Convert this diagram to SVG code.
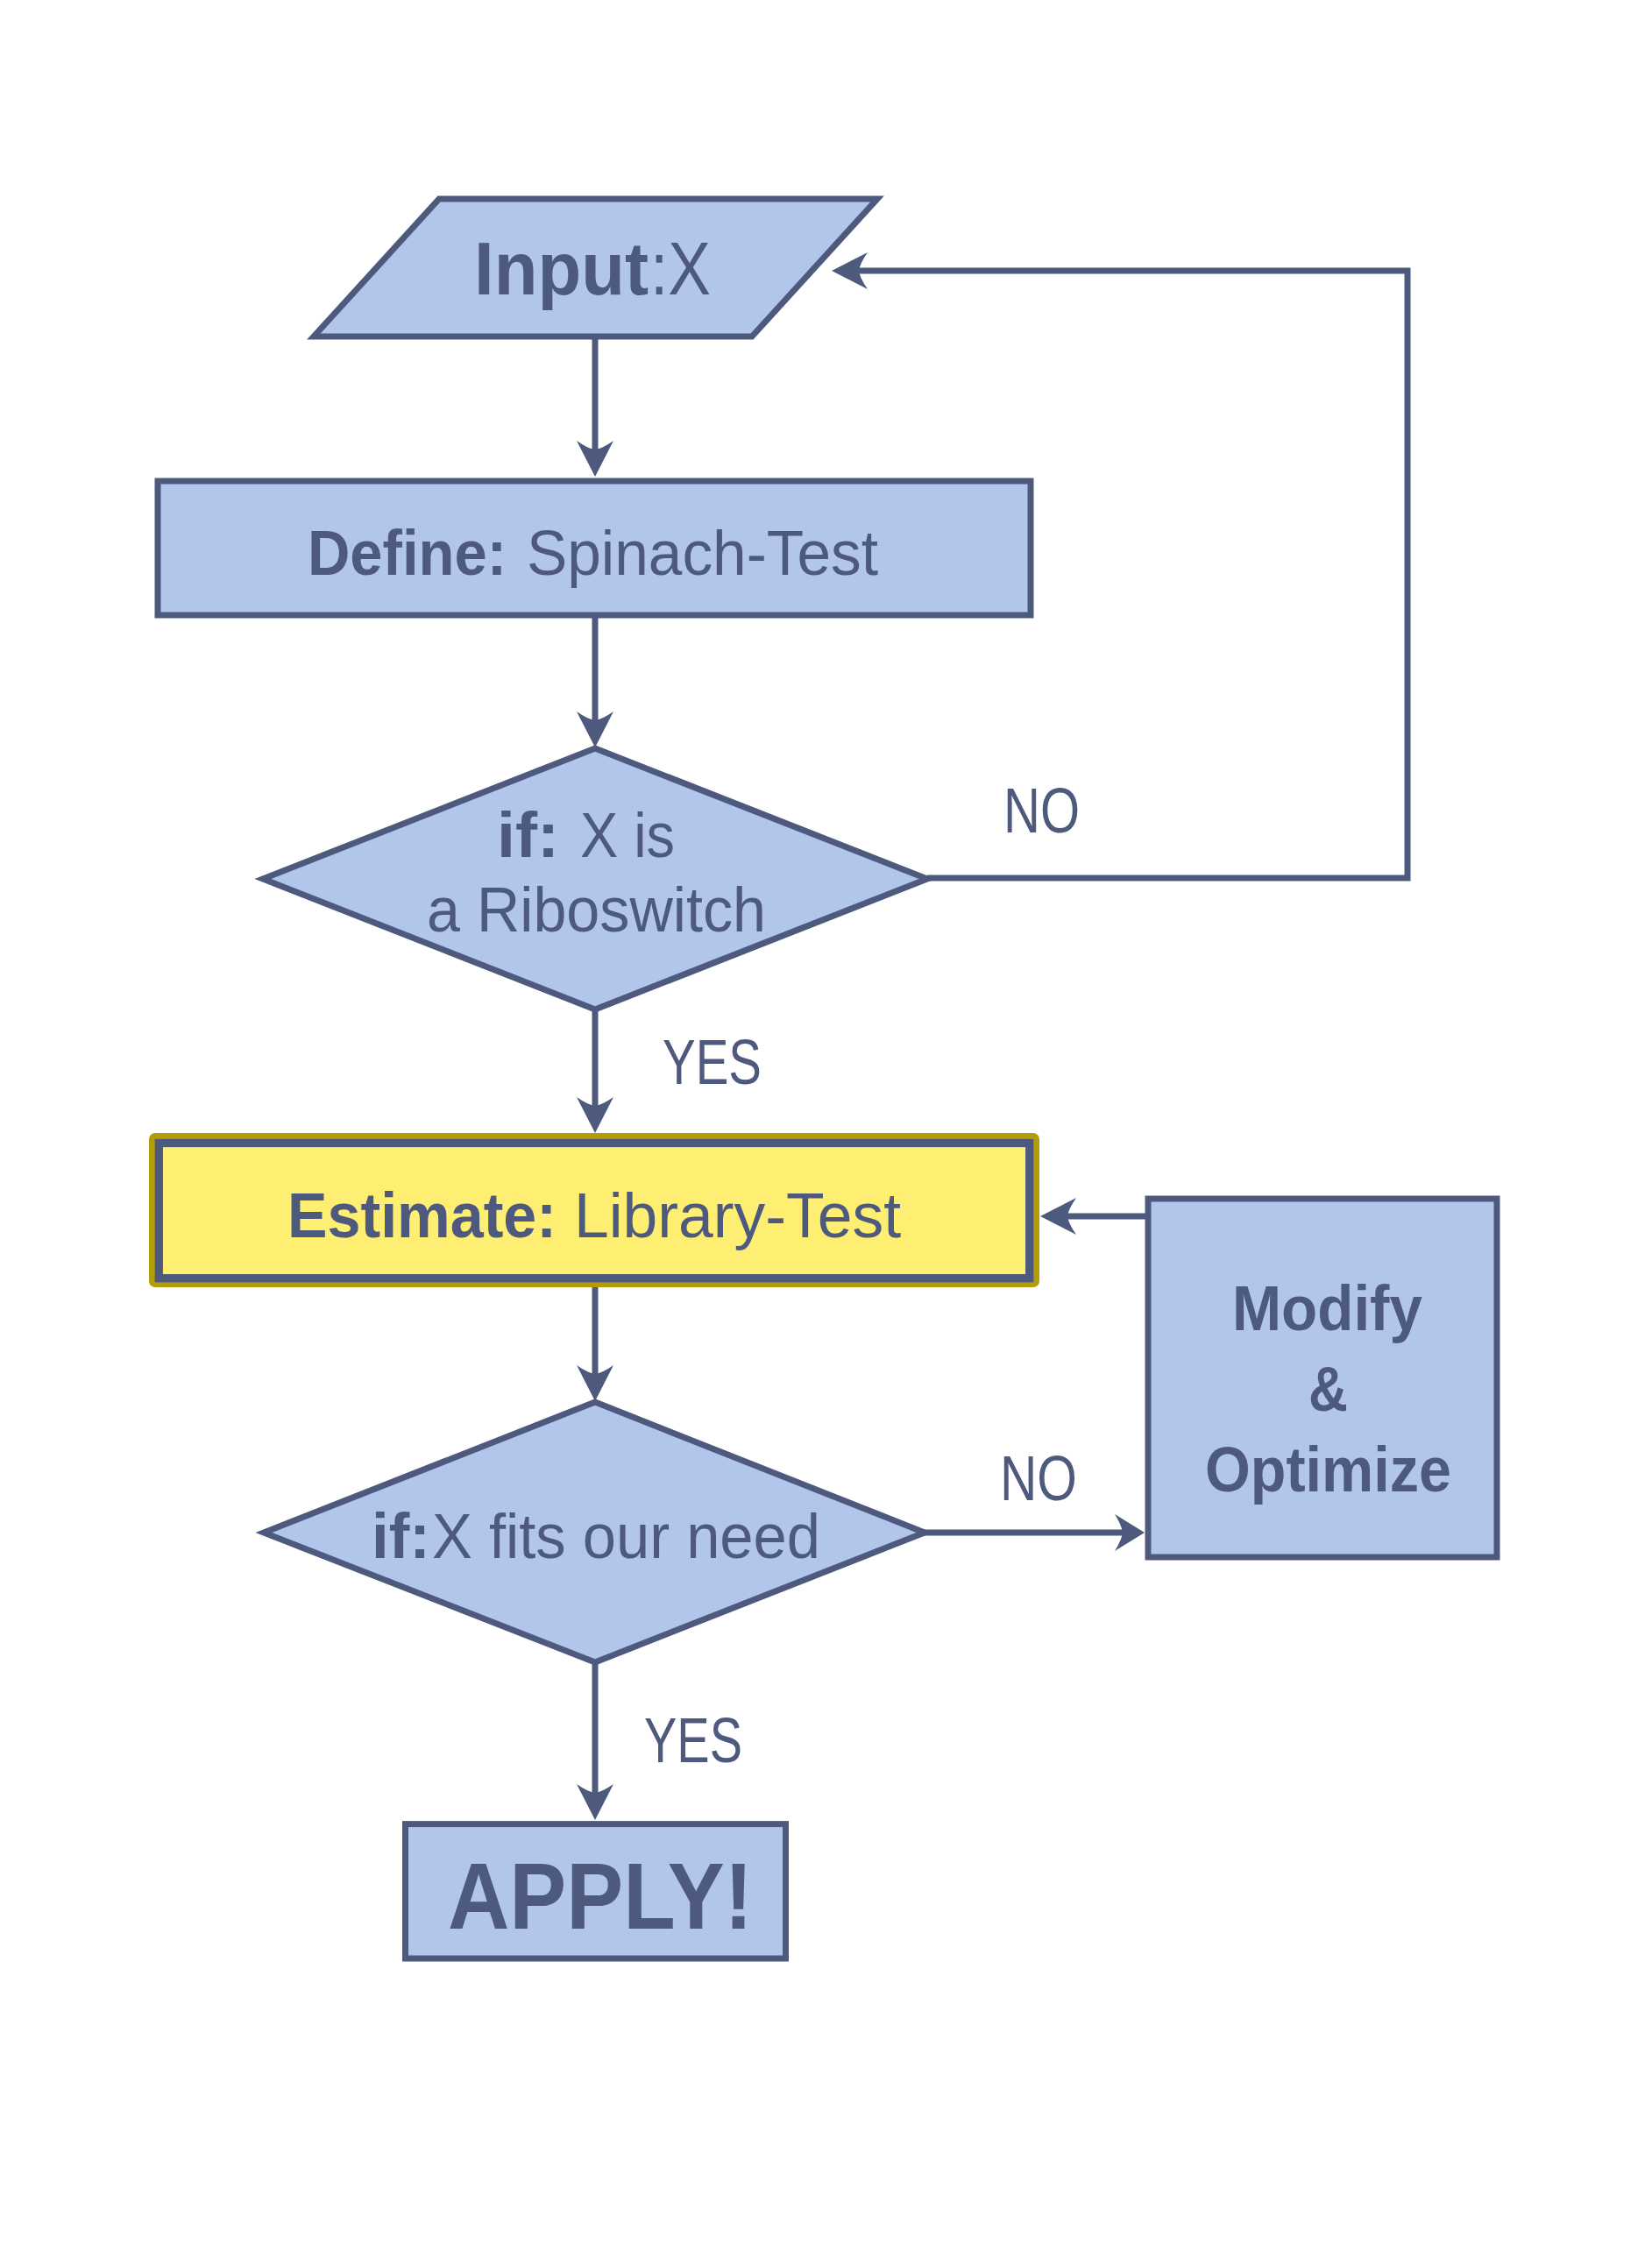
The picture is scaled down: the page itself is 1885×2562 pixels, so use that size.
<svg xmlns="http://www.w3.org/2000/svg" width="1885" height="2562" viewBox="0 0 1885 2562">
<style>
.shape{fill:#B2C6EB;stroke:#4E5A7D;stroke-width:7;stroke-linejoin:miter}
.con{fill:none;stroke:#4E5A7D;stroke-width:7}
text{font-family:"Liberation Sans",Arial,sans-serif;fill:#4E5A7D}
.b{font-weight:bold}
.t{font-size:72px}
</style>
<defs>
<marker id="ah" markerUnits="userSpaceOnUse" viewBox="-43 -23 45 46" refX="-30" refY="0" markerWidth="45" markerHeight="46" orient="auto" overflow="visible">
<path d="M0,0 L-41,-21 Q-32,-8 -31,0 Q-32,8 -41,21 Z" fill="#4E5A7D"/>
</marker>
<marker id="ahs" markerUnits="userSpaceOnUse" viewBox="-36 -23 38 46" refX="-24" refY="0" markerWidth="38" markerHeight="46" orient="auto" overflow="visible">
<path d="M0,0 L-34,-21 Q-26,-8 -25,0 Q-26,8 -34,21 Z" fill="#4E5A7D"/>
</marker>
</defs>
<rect width="1885" height="2562" fill="#ffffff"/>

<g id="connectors">
<path class="con" d="M679,387 V514" marker-end="url(#ah)"/>
<path class="con" d="M679,705 V823" marker-end="url(#ah)"/>
<path class="con" d="M679,1152 V1263" marker-end="url(#ah)"/>
<path class="con" d="M679,1463 V1569" marker-end="url(#ah)"/>
<path class="con" d="M679,1897 V2047" marker-end="url(#ah)"/>
<path class="con" d="M1058,1002 H1606 V309 H979" marker-end="url(#ah)"/>
<path class="con" d="M1053,1749 H1282" marker-end="url(#ahs)"/>
<path class="con" d="M1310,1388 H1217" marker-end="url(#ah)"/>
</g>

<g id="input">
<polygon class="shape" stroke-width="6" points="501,227 1001,227 858,384 358,384"/>
<text class="b" x="541" y="336" font-size="85" textLength="199" lengthAdjust="spacingAndGlyphs">Input</text>
<text x="742" y="336" font-size="85" textLength="69" lengthAdjust="spacingAndGlyphs">:X</text>
</g>

<g id="define">
<rect class="shape" x="180" y="549" width="996" height="153" stroke-width="7.5"/>
<text class="b t" x="351" y="656" textLength="227" lengthAdjust="spacingAndGlyphs">Define:</text>
<text class="t" x="601" y="656" textLength="401" lengthAdjust="spacingAndGlyphs">Spinach-Test</text>
</g>

<g id="decision1">
<polygon class="shape" stroke-width="6" points="679,854 1058,1003 679,1152 300,1003"/>
<text class="b t" x="567" y="978" textLength="71" lengthAdjust="spacingAndGlyphs">if:</text>
<text class="t" x="662" y="978" textLength="108" lengthAdjust="spacingAndGlyphs">X is</text>
<text class="t" x="487" y="1063" textLength="387" lengthAdjust="spacingAndGlyphs">a Riboswitch</text>
</g>

<g id="estimate">
<rect x="170" y="1293" width="1016" height="176" rx="7" fill="#B39C08"/>
<rect x="181.3" y="1304.5" width="993.4" height="154.2" fill="#FEEE72" stroke="#4E5A7D" stroke-width="9.3"/>
<text class="b t" x="328" y="1412" textLength="307" lengthAdjust="spacingAndGlyphs">Estimate:</text>
<text class="t" x="655" y="1412" textLength="373" lengthAdjust="spacingAndGlyphs">Library-Test</text>
</g>

<g id="decision2">
<polygon class="shape" stroke-width="6" points="679,1600 1055,1749 679,1897 301,1749"/>
<text class="b t" x="424" y="1778" textLength="67" lengthAdjust="spacingAndGlyphs">if:</text>
<text class="t" x="493" y="1778" textLength="443" lengthAdjust="spacingAndGlyphs">X fits our need</text>
</g>

<g id="modify">
<rect class="shape" x="1310" y="1368" width="398" height="409" stroke-width="7.5"/>
<text class="b t" x="1406" y="1518" textLength="217" lengthAdjust="spacingAndGlyphs">Modify</text>
<text class="b t" x="1493" y="1610" textLength="45" lengthAdjust="spacingAndGlyphs">&amp;</text>
<text class="b t" x="1375" y="1702" textLength="281" lengthAdjust="spacingAndGlyphs">Optimize</text>
</g>

<g id="apply">
<rect class="shape" x="462.5" y="2081.6" width="434" height="153.4" stroke-width="8.5"/>
<text class="b" x="511" y="2201" font-size="107" textLength="348" lengthAdjust="spacingAndGlyphs">APPLY!</text>
</g>

<g id="labels">
<text class="t" x="1145" y="950" textLength="87" lengthAdjust="spacingAndGlyphs">NO</text>
<text class="t" x="756" y="1237" textLength="113" lengthAdjust="spacingAndGlyphs">YES</text>
<text class="t" x="1141" y="1712" textLength="88" lengthAdjust="spacingAndGlyphs">NO</text>
<text class="t" x="735" y="2011" textLength="112" lengthAdjust="spacingAndGlyphs">YES</text>
</g>
</svg>
